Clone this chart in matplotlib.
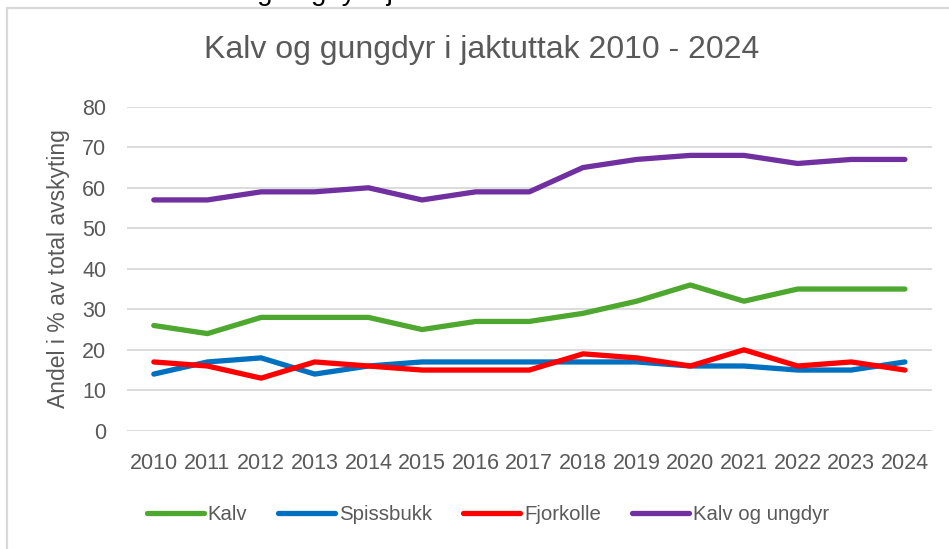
import matplotlib
matplotlib.use("Agg")
import matplotlib.pyplot as plt
from matplotlib.patches import Rectangle
import numpy as np

# Data
years = [str(y) for y in range(2010, 2025)]
kalv = [26, 24, 28, 28, 28, 25, 27, 27, 29, 32, 36, 32, 35, 35, 35]
spissbukk = [14, 17, 18, 14, 16, 17, 17, 17, 17, 17, 16, 16, 15, 15, 17]
fjorkolle = [17, 16, 13, 17, 16, 15, 15, 15, 19, 18, 16, 20, 16, 17, 15]
kalv_ungdyr = [57, 57, 59, 59, 60, 57, 59, 59, 65, 67, 68, 68, 66, 67, 67]

plt.rcParams['font.family'] = ['Liberation Sans', 'DejaVu Sans']
grey = '#595959'

fig = plt.figure(figsize=(9.49, 5.49), dpi=100)
ax = fig.add_axes([0.1338, 0.2153, 0.848, 0.5902])

# chart frame (only left/top visible in the crop)
fig.patches.append(Rectangle((7 / 949, -0.1), 1.1, 1 - 8 / 549 + 0.1,
                             transform=fig.transFigure, fill=False,
                             edgecolor='#D9D9D9', linewidth=1.6))
# cut-off heading from the page above
fig.text(0.19, 1.0, 'Kalv og ungdyr i jaktuttak', fontsize=20, color='black',
         ha='left', va='baseline')

x = np.arange(len(years))
ax.plot(x, kalv, color='#4EA72E', lw=3.8, label='Kalv', solid_capstyle='round')
ax.plot(x, spissbukk, color='#0070C0', lw=3.8, label='Spissbukk', solid_capstyle='round')
ax.plot(x, fjorkolle, color='#FF0000', lw=3.8, label='Fjorkolle', solid_capstyle='round')
ax.plot(x, kalv_ungdyr, color='#7030A0', lw=3.8, label='Kalv og ungdyr', solid_capstyle='round')

ax.set_xlim(-0.5, len(years) - 0.5)
ax.set_ylim(0, 80)
ax.set_yticks(range(0, 81, 10))
ax.set_xticks(x)
ax.set_xticklabels(years)
ax.grid(axis='y', color='#D9D9D9', lw=1.3)
ax.set_axisbelow(True)
for s in ax.spines.values():
    s.set_visible(False)
ax.tick_params(length=0, labelsize=15.5, labelcolor=grey)
ax.tick_params(axis='x', pad=16)
ax.tick_params(axis='y', pad=15)

ax.set_ylabel('Andel i % av total avskyting', fontsize=16.5, color=grey)
ax.yaxis.set_label_coords(-0.071, 0.5)

fig.text(0.508, 0.909, 'Kalv og gungdyr i jaktuttak 2010 - 2024', fontsize=23,
         color=grey, ha='center', va='center')

leg = fig.legend(loc='center', bbox_to_anchor=(0.514, 0.062), ncol=4, frameon=False,
                 prop={'size': 14.7}, handlelength=2.8,
                 handletextpad=0.2, columnspacing=1.5, labelcolor=grey)

plt.savefig('out.png', dpi=100)
